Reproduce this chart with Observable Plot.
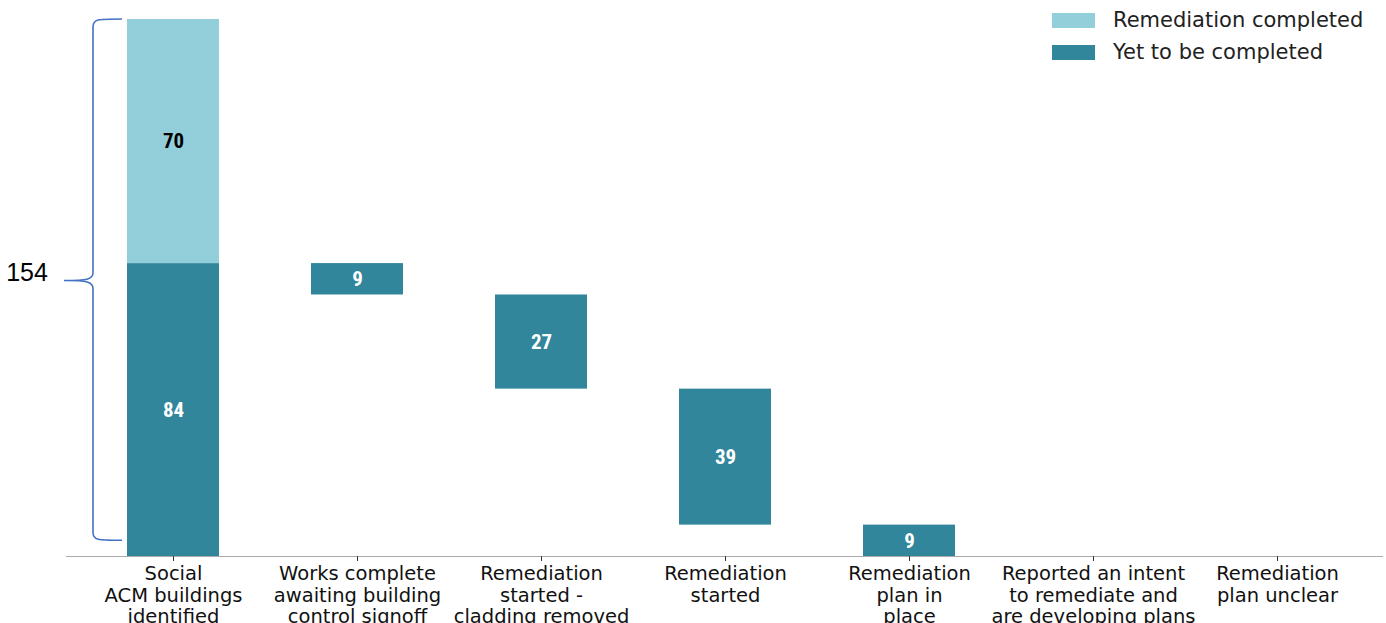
<!DOCTYPE html>
<html>
<head>
<meta charset="utf-8">
<script src="https://cdn.jsdelivr.net/npm/d3@7"></script>
<script src="https://cdn.jsdelivr.net/npm/@observablehq/plot@0.6"></script>
<style>
  html, body { margin: 0; padding: 0; background: #fff; overflow: hidden; }
  #wrap { position: relative; width: 1386px; height: 623px; overflow: hidden; }
  #legend { position: absolute; left: 1052px; top: 4px; font-family: "DejaVu Sans", sans-serif; font-size: 21px; color: #222; }
  #legend .row { display: flex; align-items: center; height: 32px; }
  #legend .sw { width: 43px; height: 15px; margin-right: 18px; }
</style>
</head>
<body>
<div id="wrap"><div id="legend"></div></div>
<script>
const categories = [
  "Social\nACM buildings\nidentified",
  "Works complete\nawaiting building\ncontrol signoff",
  "Remediation\nstarted -\ncladding removed",
  "Remediation\nstarted",
  "Remediation\nplan in\nplace",
  "Reported an intent\nto remediate and\nare developing plans",
  "Remediation\nplan unclear"
];
const completed = [70, 0, 0, 0, 0, 0, 0];
const yetToBeCompleted = [84, 9, 27, 39, 9, 0, 0];
const totalLabel = "154";
const seriesNames = ["Remediation completed", "Yet to be completed"];
const colors = ["#93cfdb", "#31869b"];

// Build waterfall segments
const total = completed[0] + yetToBeCompleted[0];
const segs = [];
segs.push({cat: categories[0], y1: 0, y2: yetToBeCompleted[0], v: yetToBeCompleted[0], s: seriesNames[1]});
segs.push({cat: categories[0], y1: yetToBeCompleted[0], y2: total, v: completed[0], s: seriesNames[0]});
let level = yetToBeCompleted[0];
for (let i = 1; i < categories.length; i++) {
  const v = yetToBeCompleted[i];
  if (v > 0) segs.push({cat: categories[i], y1: level - v, y2: level, v, s: seriesNames[1]});
  level -= v;
}

const brace = (index, scales, values, dims) => {
  const y = scales.y;
  const top = y(total), bot = y(4.5), mid = y(79);
  const xv = 93, xr = 122, xp = 64, r = 8;
  const d = `M${xr},${top} C${xv+4},${top} ${xv},${top} ${xv},${top+r} L${xv},${mid-r} C${xv},${mid-1} ${xv-6},${mid} ${xp},${mid} ` +
            `M${xp},${mid} C${xv-6},${mid} ${xv},${mid+1} ${xv},${mid+r} L${xv},${bot-r} C${xv},${bot} ${xv+4},${bot} ${xr},${bot}`;
  const g = document.createElementNS("http://www.w3.org/2000/svg", "g");
  const p = document.createElementNS("http://www.w3.org/2000/svg", "path");
  p.setAttribute("d", d);
  p.setAttribute("fill", "none");
  p.setAttribute("stroke", "#4472c4");
  p.setAttribute("stroke-width", "1.6");
  g.appendChild(p);
  const t = document.createElementNS("http://www.w3.org/2000/svg", "text");
  t.setAttribute("x", 27);
  t.setAttribute("y", mid - 6);
  t.setAttribute("text-anchor", "middle");
  t.setAttribute("dominant-baseline", "middle");
  t.setAttribute("font-family", "Liberation Sans, Arial, sans-serif");
  t.setAttribute("font-size", "25");
  t.setAttribute("fill", "#000");
  t.textContent = totalLabel;
  g.appendChild(t);
  return g;
};

const chart = Plot.plot({
  width: 1386,
  height: 640,
  marginTop: 19,
  marginBottom: 84,
  marginLeft: 66,
  marginRight: 3,
  style: {fontFamily: "DejaVu Sans, sans-serif", background: "#fff"},
  x: {domain: categories, paddingInner: 0.5, paddingOuter: 0.326},
  y: {domain: [0, total], axis: null},
  color: {domain: seriesNames, range: colors},
  marks: [
    Plot.rectY(segs, {x: "cat", y1: "y1", y2: "y2", fill: "s"}),
    Plot.ruleY([0], {stroke: "#aaa", strokeWidth: 1.2}),
    Plot.text(segs, {
      x: "cat", y: d => (d.y1 + d.y2) / 2, text: d => String(d.v),
      fill: d => d.s === seriesNames[0] ? "#000" : "#fff",
      fontFamily: "Liberation Sans Narrow, Roboto Condensed, Liberation Sans, sans-serif",
      fontWeight: "bold", fontSize: 21
    }),
    Plot.axisX({
      tickSize: 5, tickPadding: 4, fontSize: 19.5, lineHeight: 1.08,
      stroke: "#333", color: "#111", label: null,
      tickFormat: d => d
    }),
    brace
  ]
});
document.getElementById("wrap").prepend(chart);

const leg = document.getElementById("legend");
seriesNames.forEach((n, i) => {
  const row = document.createElement("div");
  row.className = "row";
  row.innerHTML = `<div class="sw" style="background:${colors[i]}"></div><span>${n}</span>`;
  leg.appendChild(row);
});
</script>
</body>
</html>
